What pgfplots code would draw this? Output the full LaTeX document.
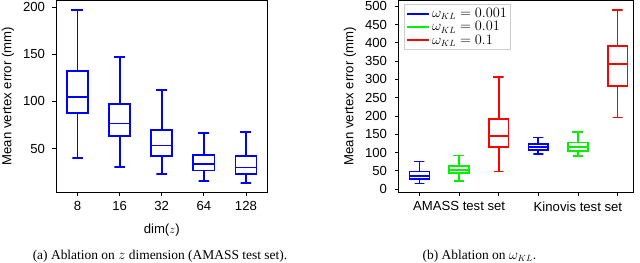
\documentclass[border=0pt]{standalone}
\usepackage{pgfplots}
\pgfplotsset{compat=1.18}
\usepackage{fontspec}
\setmainfont{Liberation Serif}
\setsansfont{Liberation Sans}
\definecolor{mblue}{RGB}{0,0,255}
\definecolor{mgreen}{RGB}{0,240,0}
\definecolor{mred}{RGB}{255,0,0}
\pgfplotsset{
  mystyle/.style={
    scale only axis,
    axis line style={line width=0.8bp},
    tick style={line width=0.8bp, black},
    tick align=outside,
    major tick length=4bp,
    xtick pos=bottom, ytick pos=left,
    /pgf/number format/assume math mode=true,
    tick label style={font=\sffamily\fontsize{13.2}{15}\selectfont},
    xticklabel style={yshift=-2bp},
    yticklabel style={xshift=-4bp},
    label style={font=\sffamily\fontsize{13.2}{15}\selectfont},
    xlabel style={yshift=-6bp},
    ylabel style={yshift=2bp},
    ylabel={Mean vertex error (mm)},
  },
  bx/.style={line width=1.7bp, solid, line cap=rect, line join=miter, mark=none, forget plot},
}
\begin{document}
\begin{tikzpicture}
\useasboundingbox (0bp,0bp) rectangle (640bp,263bp);
% ---------- (a) ----------
\begin{axis}[mystyle,
  at={(56.5bp,71bp)}, anchor=south west,
  width=210.5bp, height=191.5bp,
  xmin=0.5, xmax=5.5, ymin=4, ymax=207,
  xtick={1,2,3,4,5}, xticklabels={8,16,32,64,128},
  ytick={50,100,150,200},
  xlabel={dim($z$)},
]
% x=1: 40.2 / 87.6 / 104.8 / 131.9 / 197.2
\addplot[mblue, bx] coordinates {(0.875,197.2)(1.125,197.2)(1,197.2)(1,131.9)(1.25,131.9)(1.25,87.6)(1,87.6)(1,40.2)(0.875,40.2)(1.125,40.2)(1,40.2)(1,87.6)(0.75,87.6)(0.75,104.8)(1.25,104.8)(0.75,104.8)(0.75,131.9)(1,131.9)};
% x=2: 30.7 / 63.4 / 76.7 / 97.1 / 147.0
\addplot[mblue, bx] coordinates {(1.875,147.0)(2.125,147.0)(2,147.0)(2,97.1)(2.25,97.1)(2.25,63.4)(2,63.4)(2,30.7)(1.875,30.7)(2.125,30.7)(2,30.7)(2,63.4)(1.75,63.4)(1.75,76.7)(2.25,76.7)(1.75,76.7)(1.75,97.1)(2,97.1)};
% x=3: 23.3 / 42.0 / 53.2 / 69.7 / 111.9
\addplot[mblue, bx] coordinates {(2.875,111.9)(3.125,111.9)(3,111.9)(3,69.7)(3.25,69.7)(3.25,42.0)(3,42.0)(3,23.3)(2.875,23.3)(3.125,23.3)(3,23.3)(3,42.0)(2.75,42.0)(2.75,53.2)(3.25,53.2)(2.75,53.2)(2.75,69.7)(3,69.7)};
% x=4: 16.0 / 26.8 / 33.5 / 43.0 / 66.5
\addplot[mblue, bx] coordinates {(3.875,66.5)(4.125,66.5)(4,66.5)(4,43.0)(4.25,43.0)(4.25,26.8)(4,26.8)(4,16.0)(3.875,16.0)(4.125,16.0)(4,16.0)(4,26.8)(3.75,26.8)(3.75,33.5)(4.25,33.5)(3.75,33.5)(3.75,43.0)(4,43.0)};
% x=5: 13.8 / 23.3 / 30.0 / 42.0 / 67.6
\addplot[mblue, bx] coordinates {(4.875,67.6)(5.125,67.6)(5,67.6)(5,42.0)(5.25,42.0)(5.25,23.3)(5,23.3)(5,13.8)(4.875,13.8)(5.125,13.8)(5,13.8)(5,23.3)(4.75,23.3)(4.75,30.0)(5.25,30.0)(4.75,30.0)(4.75,42.0)(5,42.0)};
\end{axis}
% ---------- (b) ----------
\begin{axis}[mystyle,
  at={(398.5bp,71bp)}, anchor=south west,
  width=234.5bp, height=191.5bp,
  xmin=0.47, xmax=6.39, ymin=-8, ymax=516,
  xtick={1,2,3,4,5,6}, xticklabels={,AMASS test set,,,Kinovis test set,},
  ytick={0,50,100,150,200,250,300,350,400,450,500},
  legend style={at={(0,1)}, anchor=north west,
    xshift=5.5bp, yshift=-4bp, draw=black!20, line width=0.8bp,
    font=\fontsize{13.5}{15}\selectfont, inner sep=1.5bp, row sep=-1.5bp},
  legend cell align=left,
  legend image code/.code={\draw[#1] (0bp,0bp) -- (22bp,0bp);},
]
\addlegendimage{mblue, line width=2.2bp}\addlegendentry{$\omega_{KL}=0.001$}
\addlegendimage{mgreen, line width=2.2bp}\addlegendentry{$\omega_{KL}=0.01$}
\addlegendimage{mred, line width=2.2bp}\addlegendentry{$\omega_{KL}=0.1$}
% 1 blue AMASS: 15.5 / 27.3 / 36.4 / 48.2 / 75.5
\addplot[mblue, bx] coordinates {(0.875,75.5)(1.125,75.5)(1,75.5)(1,48.2)(1.25,48.2)(1.25,27.3)(1,27.3)(1,15.5)(0.875,15.5)(1.125,15.5)(1,15.5)(1,27.3)(0.75,27.3)(0.75,36.4)(1.25,36.4)(0.75,36.4)(0.75,48.2)(1,48.2)};
% 2 green AMASS: 21.8 / 43.6 / 51.8 / 63.6 / 91.8
\addplot[mgreen, bx] coordinates {(1.875,91.8)(2.125,91.8)(2,91.8)(2,63.6)(2.25,63.6)(2.25,43.6)(2,43.6)(2,21.8)(1.875,21.8)(2.125,21.8)(2,21.8)(2,43.6)(1.75,43.6)(1.75,51.8)(2.25,51.8)(1.75,51.8)(1.75,63.6)(2,63.6)};
% 3 red AMASS: 48.2 / 114.5 / 145.5 / 191.8 / 306.4
\addplot[mred, bx] coordinates {(2.875,306.4)(3.125,306.4)(3,306.4)(3,191.8)(3.25,191.8)(3.25,114.5)(3,114.5)(3,48.2)(2.875,48.2)(3.125,48.2)(3,48.2)(3,114.5)(2.75,114.5)(2.75,145.5)(3.25,145.5)(2.75,145.5)(2.75,191.8)(3,191.8)};
% 4 blue Kinovis: 95.5 / 107.3 / 115.5 / 122.7 / 140.9
\addplot[mblue, bx] coordinates {(3.875,140.9)(4.125,140.9)(4,140.9)(4,122.7)(4.25,122.7)(4.25,107.3)(4,107.3)(4,95.5)(3.875,95.5)(4.125,95.5)(4,95.5)(4,107.3)(3.75,107.3)(3.75,115.5)(4.25,115.5)(3.75,115.5)(3.75,122.7)(4,122.7)};
% 5 green Kinovis: 90.9 / 103.6 / 115.5 / 127.3 / 155.5
\addplot[mgreen, bx] coordinates {(4.875,155.5)(5.125,155.5)(5,155.5)(5,127.3)(5.25,127.3)(5.25,103.6)(5,103.6)(5,90.9)(4.875,90.9)(5.125,90.9)(5,90.9)(5,103.6)(4.75,103.6)(4.75,115.5)(5.25,115.5)(4.75,115.5)(4.75,127.3)(5,127.3)};
% 6 red Kinovis: 195.5 / 281.8 / 341.8 / 390.9 / 490.9
\addplot[mred, bx] coordinates {(5.875,490.9)(6.125,490.9)(6,490.9)(6,390.9)(6.25,390.9)(6.25,281.8)(6,281.8)(6,195.5)(5.875,195.5)(6.125,195.5)(6,195.5)(6,281.8)(5.75,281.8)(5.75,341.8)(6.25,341.8)(5.75,341.8)(5.75,390.9)(6,390.9)};
\end{axis}
% captions
\node[font=\fontsize{13.5}{15}\selectfont, anchor=base, inner sep=0pt] at (160bp,3.7bp) {(a) Ablation on $z$ dimension (AMASS test set).};
\node[font=\fontsize{13.5}{15}\selectfont, anchor=base, inner sep=0pt] at (479.5bp,3.7bp) {(b) Ablation on $\omega_{KL}$.};
\end{tikzpicture}
\end{document}
